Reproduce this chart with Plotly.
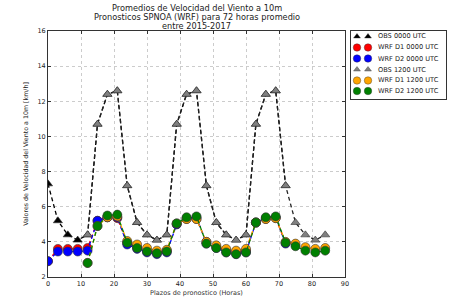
import plotly.graph_objects as go

hours_00 = [0, 3, 6, 9, 12, 15, 18, 21, 24, 27, 30, 33, 36, 39, 42, 45, 48, 51, 54, 57, 60, 63, 66, 69, 72]
hours_12 = [12, 15, 18, 21, 24, 27, 30, 33, 36, 39, 42, 45, 48, 51, 54, 57, 60, 63, 66, 69, 72, 75, 78, 81, 84]

obs_00 = [7.3, 5.2, 4.4, 4.1, 4.4, 10.7, 12.4, 12.6, 7.2, 5.1, 4.4, 4.1, 4.4, 10.7, 12.4, 12.6, 7.2, 5.1, 4.4, 4.1, 4.4, 10.7, 12.4, 12.6, 7.2]
wrf_d1_00 = [2.9, 3.6, 3.6, 3.6, 3.65, 5.2, 5.4, 5.35, 3.95, 3.7, 3.5, 3.4, 3.5, 5.0, 5.3, 5.3, 4.0, 3.7, 3.5, 3.45, 3.5, 5.1, 5.3, 5.35, 3.95]
wrf_d2_00 = [2.9, 3.45, 3.45, 3.45, 3.5, 5.2, 5.4, 5.4, 3.85, 3.6, 3.4, 3.3, 3.4, 5.0, 5.35, 5.4, 3.9, 3.65, 3.4, 3.3, 3.4, 5.1, 5.35, 5.4, 3.9]
obs_12 = [4.4, 10.7, 12.4, 12.6, 7.2, 5.1, 4.4, 4.1, 4.4, 10.7, 12.4, 12.6, 7.2, 5.1, 4.4, 4.1, 4.4, 10.7, 12.4, 12.6, 7.2, 5.1, 4.4, 4.1, 4.4]
wrf_d1_12 = [2.8, 4.9, 5.4, 5.45, 4.05, 3.85, 3.65, 3.5, 3.55, 5.05, 5.3, 5.3, 4.0, 3.8, 3.6, 3.5, 3.6, 5.1, 5.3, 5.35, 4.0, 3.9, 3.7, 3.6, 3.65]
wrf_d2_12 = [2.8, 4.9, 5.5, 5.55, 3.95, 3.65, 3.45, 3.35, 3.45, 5.05, 5.4, 5.45, 3.9, 3.65, 3.4, 3.3, 3.4, 5.1, 5.4, 5.45, 3.95, 3.75, 3.5, 3.4, 3.5]

series_names = ["OBS 0000 UTC", "WRF D1 0000 UTC", "WRF D2 0000 UTC",
                "OBS 1200 UTC", "WRF D1 1200 UTC", "WRF D2 1200 UTC"]
title_lines = ["Promedios de Velocidad del Viento a 10m",
               "Pronosticos SPNOA (WRF) para 72 horas promedio",
               "entre 2015-2017"]

styles = [
    ("black", "black", "triangle-up"),
    ("red", "red", "circle"),
    ("blue", "blue", "circle"),
    ("#222222", "#808080", "triangle-up"),
    ("orange", "orange", "circle"),
    ("green", "green", "circle"),
]
xs = [hours_00, hours_00, hours_00, hours_12, hours_12, hours_12]
ys = [obs_00, wrf_d1_00, wrf_d2_00, obs_12, wrf_d1_12, wrf_d2_12]

W, H = 450, 308
L, R, T, B = 48, 3, 31, 31
pw = W - L - R
ph = H - T - B
main_right = 345
leg_left, leg_right, leg_top, leg_bottom = 351, 446, 31, 99

fig = go.Figure()
for name, x, y, (lc, mc, sym) in zip(series_names, xs, ys, styles):
    fig.add_trace(go.Scatter(
        x=x, y=y, name=name, mode="lines+markers", showlegend=False,
        line=dict(color=lc, width=1.3, dash="4px,3px"),
        marker=dict(color=mc, symbol=sym, size=9 if sym == "circle" else 8,
                    line=dict(color="#333333", width=0.6)),
        xaxis="x", yaxis="y",
    ))

# custom compact legend (matplotlib style, two markers per entry)
row_y = [5.5, 16.5, 27.5, 38.5, 49.5, 60.0]
for name, (lc, mc, sym), ry in zip(series_names, styles, row_y):
    fig.add_trace(go.Scatter(
        x=[6, 17], y=[ry, ry], mode="markers", showlegend=False, hoverinfo="skip",
        marker=dict(color=mc, symbol=sym, size=7.5 if sym == "circle" else 6,
                    line=dict(color="#333333", width=0.4)),
        xaxis="x2", yaxis="y2",
    ))

font = "DejaVu Sans, Arial, sans-serif"
txt = "#222222"
annotations = []
for name, ry in zip(series_names, row_y):
    annotations.append(dict(
        x=(leg_left + 25 - L) / pw, y=(H - B - leg_top - ry) / ph,
        xref="paper", yref="paper", text=name, showarrow=False,
        xanchor="left", yanchor="middle",
        font=dict(family=font, size=6.6, color=txt),
    ))
title_cy = [8, 17, 26]
cx = ((L + main_right) / 2 - L) / pw
for line, cy in zip(title_lines, title_cy):
    annotations.append(dict(
        x=cx, y=(H - B - cy) / ph, xref="paper", yref="paper", text=line,
        showarrow=False, xanchor="center", yanchor="middle",
        font=dict(family=font, size=8.2, color=txt),
    ))

fig.update_layout(
    width=W, height=H,
    margin=dict(l=L, r=R, t=T, b=B, autoexpand=False),
    paper_bgcolor="white", plot_bgcolor="white",
    font=dict(family=font, size=6.5, color=txt),
    showlegend=False,
    hovermode=False,
    annotations=annotations,
    xaxis=dict(
        domain=[0, (main_right - L) / pw],
        range=[0, 90], dtick=10, tick0=0, automargin=False,
        showgrid=True, gridcolor="#cccccc", griddash="dot", gridwidth=0.6,
        showline=True, linecolor="#333333", linewidth=1, mirror="ticks",
        ticks="inside", ticklen=3, tickcolor="#333333",
        tickfont=dict(color=txt),
        zeroline=False,
        title=dict(text="Plazos de pronostico (Horas)", font=dict(size=6.5, color="#333333"), standoff=3),
    ),
    yaxis=dict(
        range=[2, 16], dtick=2, tick0=2, automargin=False,
        showgrid=True, gridcolor="#cccccc", griddash="dot", gridwidth=0.6,
        showline=True, linecolor="#333333", linewidth=1, mirror="ticks",
        ticks="inside", ticklen=3, tickcolor="#333333",
        tickfont=dict(color=txt),
        zeroline=False,
        title=dict(text="Valores de Velocidad del Viento a 10m [km/h]", font=dict(size=6.3, color=txt), standoff=8),
    ),
    xaxis2=dict(
        domain=[(leg_left - L) / pw, (leg_right - L) / pw],
        range=[0, leg_right - leg_left], anchor="y2", automargin=False,
        showgrid=False, zeroline=False, showticklabels=False, ticks="",
        showline=True, linecolor="#333333", linewidth=1, mirror=True, fixedrange=True,
    ),
    yaxis2=dict(
        domain=[(H - B - leg_bottom) / ph, (H - B - leg_top) / ph],
        range=[leg_bottom - leg_top, 0], anchor="x2", automargin=False,
        showgrid=False, zeroline=False, showticklabels=False, ticks="",
        showline=True, linecolor="#333333", linewidth=1, mirror=True, fixedrange=True,
    ),
)

fig.write_html("out.html", config={"displayModeBar": False},
               post_script="document.body.style.margin='0';")
